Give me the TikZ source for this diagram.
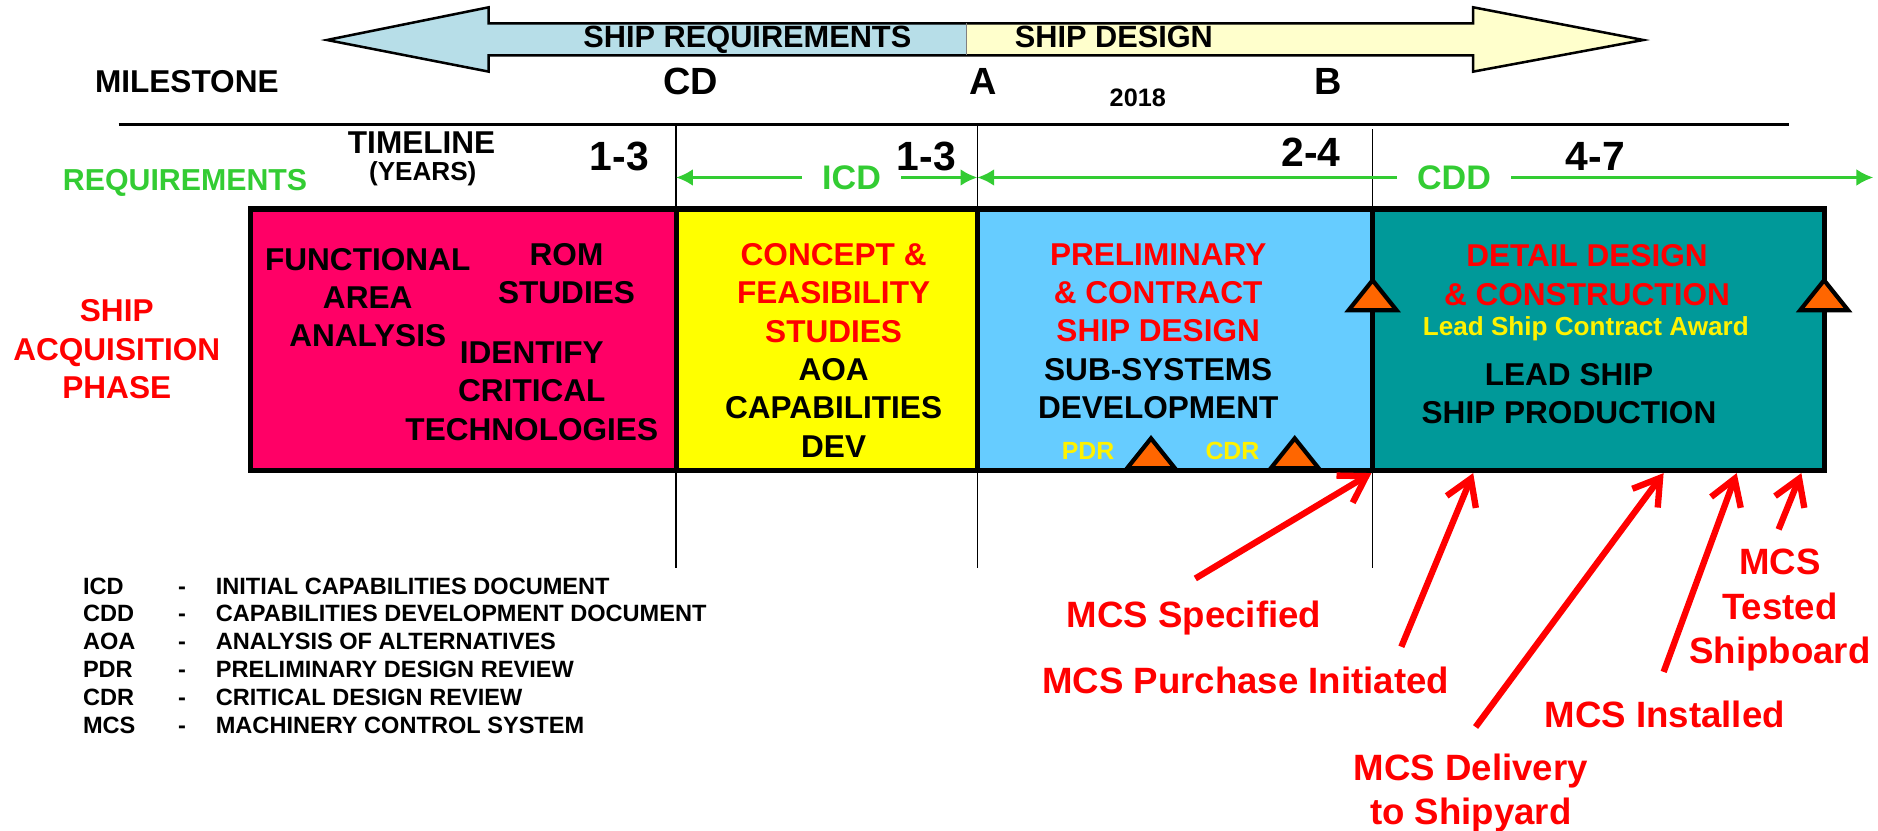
\documentclass[tikz,border=0pt]{standalone}
\usepackage{fontspec}
\setmainfont{Liberation Sans}
\usetikzlibrary{arrows.meta}

\definecolor{pinkbox}{HTML}{FF0066}
\definecolor{yellowbox}{HTML}{FFFF00}
\definecolor{bluebox}{HTML}{66CCFF}
\definecolor{tealbox}{HTML}{009999}
\definecolor{reqblue}{HTML}{B7DEE8}
\definecolor{desyellow}{HTML}{FFFFCC}
\definecolor{reqgreen}{HTML}{33CC33}
\definecolor{trifill}{HTML}{FF6600}

\tikzset{
  lbl/.style={inner sep=0pt, font=\fontsize{7.5}{9.1}\selectfont\bfseries, align=center},
  title/.style={lbl, text=red},
  arrowlbl/.style={inner sep=0pt, anchor=base, font=\fontsize{7.3}{9}\selectfont\bfseries},
  ms/.style={inner sep=0pt, anchor=base, font=\fontsize{9}{11}\selectfont\bfseries},
  num/.style={inner sep=0pt, anchor=base, font=\fontsize{9.7}{11}\selectfont\bfseries},
  grnlbl/.style={inner xsep=0.16cm, inner ysep=0pt, anchor=base, text=reqgreen,
    font=\fontsize{8.1}{9.5}\selectfont\bfseries},
  grnarrow/.style={draw=reqgreen, line width=0.6pt, -{Latex[length=4pt,width=4pt]}},
  review/.style={inner sep=0pt, anchor=base, text=yellow, font=\fontsize{5.9}{7}\selectfont\bfseries},
  award/.style={inner sep=0pt, anchor=base, text=yellow, font=\fontsize{6.2}{7.5}\selectfont\bfseries},
  legend/.style={inner sep=0pt, anchor=base west, font=\fontsize{5.6}{6.7}\selectfont\bfseries},
  mcs/.style={inner sep=0pt, align=center, text=red, font=\fontsize{8.7}{10.5}\selectfont\bfseries},
  mcsarrow/.style={draw=red, line width=1.5pt, -{Straight Barb[length=6pt,width=7.5pt]}},
  milestri/.style={fill=trifill, draw=black, line width=1pt},
  phasebox/.style={draw=black, line width=1.2pt}
}

\begin{document}
\begin{tikzpicture}
\useasboundingbox (0,0) rectangle (15.68,-6.93);

% double arrow: requirements (left) / design (right)
\fill[reqblue] (2.73,-0.334) -- (4.08,-0.061) -- (4.08,-0.195) -- (8.07,-0.195) -- (8.07,-0.463)
  -- (4.08,-0.463) -- (4.08,-0.598) -- cycle;
\fill[desyellow] (8.07,-0.195) -- (12.30,-0.195) -- (12.30,-0.061) -- (13.72,-0.334)
  -- (12.30,-0.598) -- (12.30,-0.463) -- (8.07,-0.463) -- cycle;
\draw[line width=0.6pt] (2.73,-0.334) -- (4.08,-0.061) -- (4.08,-0.195) -- (12.30,-0.195)
  -- (12.30,-0.061) -- (13.72,-0.334) -- (12.30,-0.598) -- (12.30,-0.463) -- (4.08,-0.463)
  -- (4.08,-0.598) -- cycle;
\draw[gray, line width=0.4pt] (8.07,-0.195) -- (8.07,-0.463);
\node[arrowlbl] (shipreq) at (6.24,-0.40) {SHIP REQUIREMENTS};
\node[arrowlbl] (shipdes) at (9.30,-0.40) {SHIP DESIGN};

% milestones
\node[lbl, anchor=base] (milestone) at (1.56,-0.776) {MILESTONE};
\node[ms] (mcd) at (5.765,-0.785) {CD};
\node[ms] (ma) at (8.205,-0.785) {A};
\node[ms] (mb) at (11.085,-0.785) {B};
\node[inner sep=0pt, anchor=base, font=\fontsize{6}{7}\selectfont\bfseries] (yr) at (9.50,-0.886) {2018};

% rule and phase dividers
\coordinate (d1) at (5.645,-1.04);
\coordinate (d2) at (8.16,-1.04);
\coordinate (d3) at (11.46,-1.08);
\coordinate (bot) at (0,-4.74);
\coordinate (reqend) at (15.64,-1.47);
\draw[line width=0.6pt] (0.99,-1.04) -- (14.94,-1.04);
\foreach \d in {d1,d2,d3}
  \draw[line width=0.4pt] (\d) -- (\d |- bot);

% timeline row
\node[lbl, anchor=base] (timeline) at (3.52,-1.284) {TIMELINE};
\node[inner sep=0pt, anchor=base, font=\fontsize{6.2}{7}\selectfont\bfseries] (years) at (3.53,-1.508) {(YEARS)};
\node[num] (n1) at (5.17,-1.42) {1-3};
\node[num] (n2) at (7.735,-1.42) {1-3};
\node[num] (n3) at (10.945,-1.39) {2-4};
\node[num] (n4) at (13.32,-1.425) {4-7};

% requirements documents
\node[inner sep=0pt, anchor=base, text=reqgreen, font=\fontsize{7.2}{9}\selectfont\bfseries] (req) at (1.545,-1.594) {REQUIREMENTS};
\node[grnlbl] (icd) at (7.11,-1.58) {ICD};
\node[grnlbl] (cdd) at (12.14,-1.58) {CDD};
\draw[grnarrow] (icd.west) -- (icd.west -| d1);
\draw[grnarrow] (icd.east) -- (icd.east -| d2);
\draw[grnarrow] (cdd.west) -- (cdd.west -| d2);
\draw[grnarrow] (cdd.east) -- (cdd.east -| reqend);

% acquisition phases
\foreach \xa/\xb/\col in {2.09/5.645/pinkbox, 5.645/8.16/yellowbox, 8.16/11.46/bluebox, 11.46/15.23/tealbox}
  \filldraw[phasebox, fill=\col] (\xa,-1.745) rectangle (\xb,-3.93);

% review and award markers
\foreach \x/\y in {9.61/3.91, 10.81/3.91, 11.46/2.59, 15.23/2.59}
  \filldraw[milestri] (\x-0.2,-\y) -- (\x,-\y+0.25) -- (\x+0.2,-\y) -- cycle;

\node[title, anchor=north] (sap) at (0.975,-2.496) {SHIP\\ACQUISITION\\PHASE};

\node[lbl, anchor=north] (faa) at (3.07,-2.066) {FUNCTIONAL\\AREA\\ANALYSIS};
\node[lbl, anchor=north] (rom) at (4.73,-2.026) {ROM\\STUDIES};
\node[lbl, anchor=north] (ict) at (4.44,-2.846) {IDENTIFY\\CRITICAL\\TECHNOLOGIES};

\node[title, anchor=north] (cfs) at (6.96,-2.026) {CONCEPT \&\\FEASIBILITY\\STUDIES};
\node[lbl, anchor=north] (aoa) at (6.96,-2.986) {AOA\\CAPABILITIES\\DEV};

\node[title, anchor=north] (pcsd) at (9.67,-2.026) {PRELIMINARY\\\& CONTRACT\\SHIP DESIGN};
\node[lbl, anchor=north] (ssd) at (9.67,-2.986) {SUB-SYSTEMS\\DEVELOPMENT};
\node[review] (pdr) at (9.085,-3.834) {PDR};
\node[review] (cdr) at (10.29,-3.834) {CDR};

\node[title, anchor=north] (ddc) at (13.25,-2.036) {DETAIL DESIGN\\\& CONSTRUCTION};
\node[award] (award) at (13.24,-2.80) {Lead Ship Contract Award};
\node[lbl, anchor=north] (lead) at (13.10,-3.026) {LEAD SHIP\\SHIP PRODUCTION};

% abbreviations
\foreach \ab/\txt [count=\i] in {ICD/INITIAL CAPABILITIES DOCUMENT, CDD/CAPABILITIES DEVELOPMENT DOCUMENT,
    AOA/ANALYSIS OF ALTERNATIVES, PDR/PRELIMINARY DESIGN REVIEW, CDR/CRITICAL DESIGN REVIEW,
    MCS/MACHINERY CONTROL SYSTEM}{
  \node[legend] (ab\i) at (0.686,{-4.96-0.232*(\i-1)}) {\ab};
  \node[legend] (dash\i) at (1.48,{-4.96-0.232*(\i-1)}) {-};
  \node[legend] (desc\i) at (1.795,{-4.96-0.232*(\i-1)}) {\txt};
}

% MCS events
\node[mcs, anchor=base] (spec) at (9.97,-5.24) {MCS Specified};
\node[mcs, anchor=base] (purch) at (10.40,-5.79) {MCS Purchase Initiated};
\node[mcs, anchor=north] (deliv) at (12.28,-6.286) {MCS Delivery\\to Shipyard};
\node[mcs, anchor=base] (inst) at (13.90,-6.07) {MCS Installed};
\node[mcs, anchor=north] (tested) at (14.86,-4.58) {MCS\\Tested\\Shipboard};

\coordinate (t1) at (9.98,-4.83);   \coordinate (h1) at (11.45,-3.95);
\coordinate (t2) at (11.70,-5.40);  \coordinate (h2) at (12.30,-3.95);
\coordinate (t3) at (12.32,-6.07);  \coordinate (h3) at (13.89,-3.95);
\coordinate (t4) at (13.89,-5.61);  \coordinate (h4) at (14.50,-3.95);
\coordinate (t5) at (14.85,-4.42);  \coordinate (h5) at (15.04,-3.95);
\foreach \i in {1,...,5}
  \draw[mcsarrow] (t\i) -- (h\i);

\end{tikzpicture}
\end{document}
